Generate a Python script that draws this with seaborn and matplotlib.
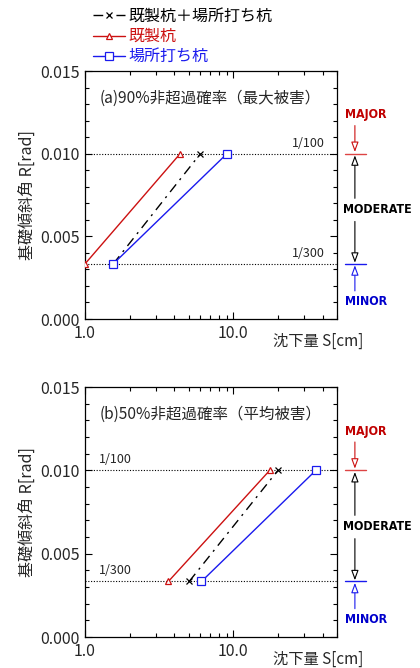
import numpy as np
import pandas as pd
import matplotlib
matplotlib.use('Agg')
import matplotlib.pyplot as plt
import matplotlib.transforms as mtransforms
from matplotlib.ticker import MultipleLocator, LogLocator, NullFormatter
import seaborn as sns

# Data
r_vals = [1 / 300, 1 / 100]

# (a) 90% non-exceedance (max damage)
s_a_both = [1.55, 6.0]
s_a_pre = [1.0, 4.38]
s_a_cast = [1.55, 9.06]

# (b) 50% non-exceedance (mean damage)
s_b_both = [5.04, 20.0]
s_b_pre = [3.65, 17.6]
s_b_cast = [6.1, 36.0]

titles = ['(a)90%非超過確率（最大被害）', '(b)50%非超過確率（平均被害）']
series_names = ['既製杭＋場所打ち杭', '既製杭', '場所打ち杭']

sns.set_style('ticks')
plt.rcParams['font.family'] = ['Noto Sans CJK JP', 'DejaVu Sans']

RED = '#cc1111'
BLUE = '#1a1aee'
LVL_FONT = dict(fontsize=8.9, fontweight='bold', family='DejaVu Sans',
                fontstretch='condensed')

fig = plt.figure(figsize=(4.2, 6.68), dpi=100)
ax_a = fig.add_axes([85 / 420, 1 - 319 / 668, 252 / 420, 248 / 668])
ax_b = fig.add_axes([85 / 420, 1 - 637 / 668, 252 / 420, 250 / 668])

panels = [
    (ax_a, s_a_both, s_a_pre, s_a_cast, titles[0], 0.885),
    (ax_b, s_b_both, s_b_pre, s_b_cast, titles[1], 0.12),
]

for ax, s_both, s_pre, s_cast, title, lab_x in panels:
    # reference lines
    for r in r_vals:
        ax.axhline(r, color='black', lw=0.8, ls=(0, (1, 1.5)), zorder=1)

    sns.lineplot(x=s_both, y=r_vals, ax=ax, sort=False, color='black', lw=1.0,
                 linestyle=(0, (7, 4, 1.5, 4)), marker='x', markersize=5,
                 mec='black', mew=0.9, label=series_names[0], zorder=3)
    sns.lineplot(x=s_pre, y=r_vals, ax=ax, sort=False, color=RED, lw=1.0,
                 marker='^', markersize=5, mfc='white', mec=RED, mew=0.9,
                 label=series_names[1], zorder=4)
    sns.lineplot(x=s_cast, y=r_vals, ax=ax, sort=False, color=BLUE, lw=1.0,
                 marker='s', markersize=5.5, mfc='white', mec=BLUE, mew=0.9,
                 label=series_names[2], zorder=5)

    ax.set_xscale('log')
    ax.set_xlim(1, 50)
    ax.set_ylim(0, 0.015)
    ax.set_xticks([1, 10], ['1.0', '10.0'])
    ax.xaxis.set_minor_locator(LogLocator(base=10, subs=np.arange(2, 10)))
    ax.xaxis.set_minor_formatter(NullFormatter())
    ax.yaxis.set_minor_locator(MultipleLocator(0.001))
    ax.set_yticks([0, 0.005, 0.010, 0.015], ['0.000', '0.005', '0.010', '0.015'])
    ax.tick_params(which='both', direction='in', top=True, right=True,
                   labelsize=11.5, width=0.8, color='black')
    ax.tick_params(which='major', length=5, pad=4)
    ax.tick_params(which='minor', length=3)
    for sp in ax.spines.values():
        sp.set_linewidth(0.9)
        sp.set_color('black')

    ax.set_xlabel('')
    ax.set_ylabel('基礎傾斜角 R[rad]', fontsize=11.5)
    ax.yaxis.set_label_coords(-0.197, 0.5)
    ax.text(0.745, -0.088, '沈下量 S[cm]', transform=ax.transAxes,
            ha='left', va='center', fontsize=11)
    ax.text(0.06, 0.89, title, transform=ax.transAxes, ha='left',
            va='center', fontsize=11.2)

    tr = mtransforms.blended_transform_factory(ax.transAxes, ax.transData)
    ax.text(lab_x, 0.01025, '1/100', transform=tr, ha='center', va='bottom',
            fontsize=9)
    ax.text(lab_x, 0.00358, '1/300', transform=tr, ha='center', va='bottom',
            fontsize=9)

    # damage level annotation on the right
    ax.plot([1.032, 1.115], [0.010, 0.010], color='#dd4444', lw=1.0,
            transform=tr, clip_on=False)
    ax.plot([1.032, 1.115], [1 / 300, 1 / 300], color=BLUE, lw=1.0,
            transform=tr, clip_on=False)
    ax.text(1.115, 0.01235, 'MAJOR', transform=tr, ha='center', va='center',
            color='#c00000', **LVL_FONT)
    ax.text(1.159, 0.0066, 'MODERATE', transform=tr, ha='center', va='center',
            color='black', **LVL_FONT)
    ax.text(1.115, 0.00103, 'MINOR', transform=tr, ha='center', va='center',
            color='#0000cc', **LVL_FONT)
    ap = dict(arrowstyle='-|>,head_length=0.6,head_width=0.22', lw=0.8,
              shrinkA=0, shrinkB=0, fc='white')
    ax.annotate('', xy=(1.071, 0.0101), xytext=(1.071, 0.0117), xycoords=tr,
                textcoords=tr, arrowprops=dict(ap, ec=RED), annotation_clip=False)
    ax.annotate('', xy=(1.071, 0.0099), xytext=(1.071, 0.0073), xycoords=tr,
                textcoords=tr, arrowprops=dict(ap, ec='black'), annotation_clip=False)
    ax.annotate('', xy=(1.071, 0.0034), xytext=(1.071, 0.0059), xycoords=tr,
                textcoords=tr, arrowprops=dict(ap, ec='black'), annotation_clip=False)
    ax.annotate('', xy=(1.071, 0.00325), xytext=(1.071, 0.0017), xycoords=tr,
                textcoords=tr, arrowprops=dict(ap, ec=BLUE), annotation_clip=False)

handles, labels = ax_a.get_legend_handles_labels()
for a in (ax_a, ax_b):
    if a.get_legend() is not None:
        a.get_legend().remove()
fig.legend(handles, labels, loc='upper left', bbox_to_anchor=(93 / 420, 1 - 8 / 668),
           frameon=False, fontsize=11.5, handlelength=2.0, handletextpad=0.2,
           labelspacing=0.2, borderpad=0, borderaxespad=0, labelcolor='linecolor')

fig.savefig('out.png', dpi=100)
